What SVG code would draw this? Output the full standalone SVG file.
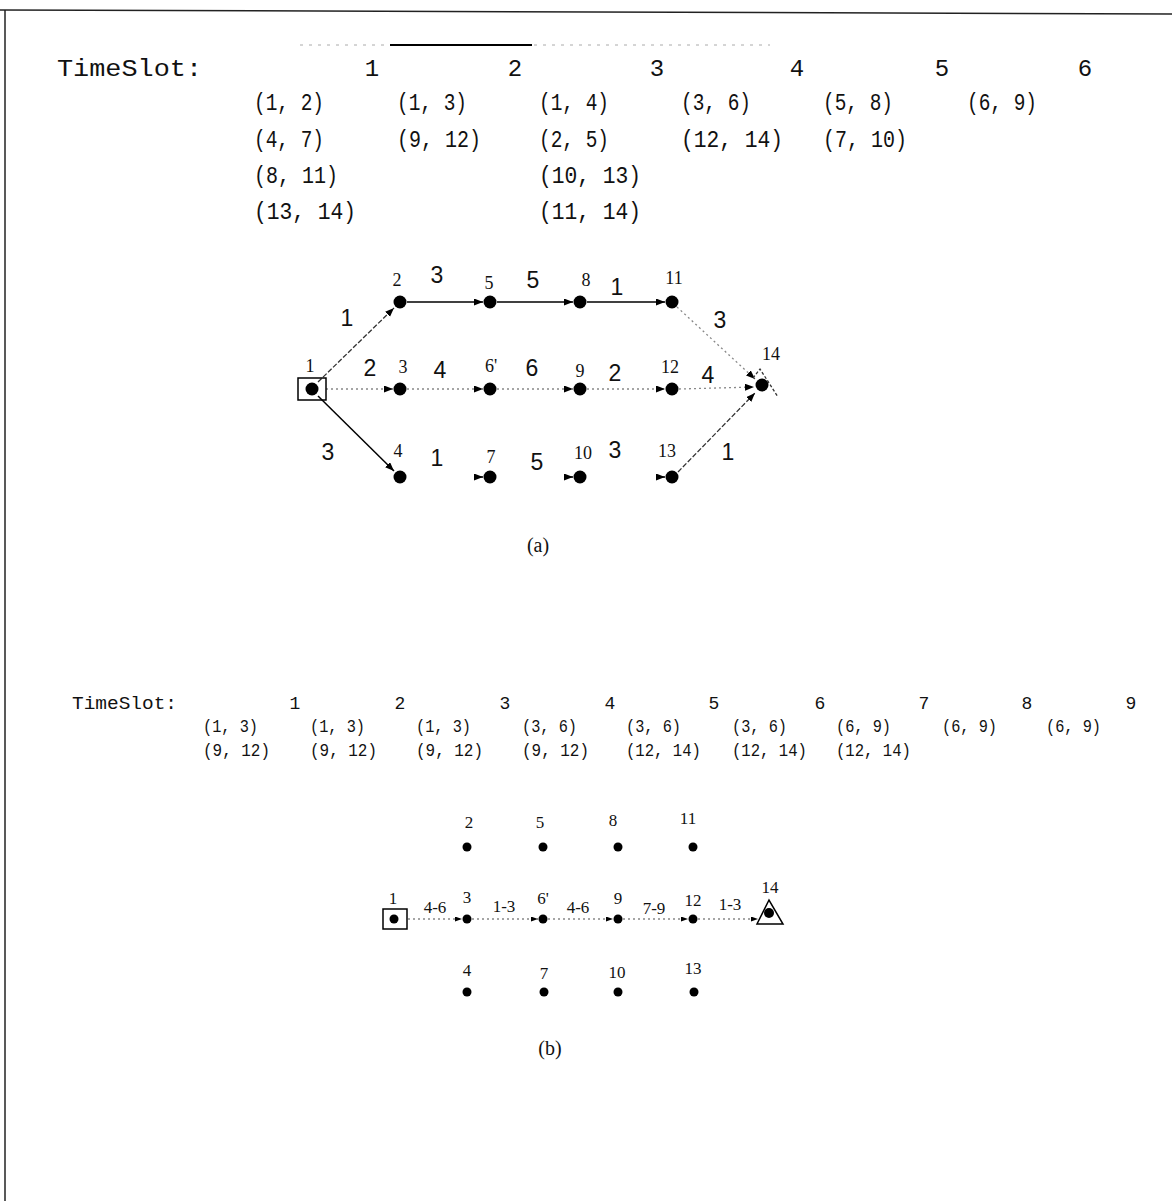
<svg xmlns="http://www.w3.org/2000/svg" width="1172" height="1201" viewBox="0 0 1172 1201">
<defs>
<style>
.ts{font-family:"Liberation Mono",monospace;font-size:24px;fill:#111}
.tsb{font-family:"Liberation Mono",monospace;font-size:18px;fill:#111}
.nl{font-family:"Liberation Serif",serif;font-size:18px;fill:#111;text-anchor:middle}
.ew{font-family:"Liberation Sans",sans-serif;font-size:23px;fill:#111;text-anchor:middle}
.nlb{font-family:"Liberation Serif",serif;font-size:17px;fill:#111;text-anchor:middle}
.cap{font-family:"Liberation Serif",serif;font-size:20px;fill:#111;text-anchor:middle}
.dot{fill:#000}
.solid{stroke:#000;stroke-width:1.5;fill:none}
.dash{stroke:#333;stroke-width:1.3;stroke-dasharray:5 2;fill:none}
.dotted{stroke:#888;stroke-width:1.3;stroke-dasharray:2 3;fill:none}
</style>
<marker id="ah" markerUnits="userSpaceOnUse" markerWidth="10" markerHeight="8" refX="9" refY="3.5" orient="auto">
<path d="M0,0 L9,3.5 L0,7 z" fill="#000"/>
</marker>
<marker id="ahs" markerUnits="userSpaceOnUse" markerWidth="8" markerHeight="6" refX="7" refY="2.5" orient="auto">
<path d="M0,0 L7,2.5 L0,5 z" fill="#000"/>
</marker>
</defs>
<rect width="1172" height="1201" fill="#fff"/>
<g id="border">
<line x1="0" y1="10" x2="1172" y2="14" stroke="#222" stroke-width="1.5"/>
<line x1="5" y1="10" x2="5" y2="1201" stroke="#222" stroke-width="1.5"/>
<line x1="300" y1="45" x2="770" y2="45" stroke="#aaa" stroke-width="1" stroke-dasharray="3 6"/>
<line x1="390" y1="45" x2="532" y2="45" stroke="#000" stroke-width="2"/>
</g>
<g id="timeslot-a">
<text class="ts" x="57" y="76" textLength="145" lengthAdjust="spacingAndGlyphs">TimeSlot:</text>
<g text-anchor="middle">
<text class="ts" x="372" y="76">1</text>
<text class="ts" x="515" y="76">2</text>
<text class="ts" x="657" y="76">3</text>
<text class="ts" x="797" y="76">4</text>
<text class="ts" x="942" y="76">5</text>
<text class="ts" x="1085" y="76">6</text>
</g>
<text class="ts" x="254" y="110" textLength="70" lengthAdjust="spacingAndGlyphs">(1, 2)</text>
<text class="ts" x="254" y="147" textLength="70" lengthAdjust="spacingAndGlyphs">(4, 7)</text>
<text class="ts" x="254" y="183" textLength="84" lengthAdjust="spacingAndGlyphs">(8, 11)</text>
<text class="ts" x="254" y="219" textLength="102" lengthAdjust="spacingAndGlyphs">(13, 14)</text>
<text class="ts" x="397" y="110" textLength="70" lengthAdjust="spacingAndGlyphs">(1, 3)</text>
<text class="ts" x="397" y="147" textLength="84" lengthAdjust="spacingAndGlyphs">(9, 12)</text>
<text class="ts" x="539" y="110" textLength="70" lengthAdjust="spacingAndGlyphs">(1, 4)</text>
<text class="ts" x="539" y="147" textLength="70" lengthAdjust="spacingAndGlyphs">(2, 5)</text>
<text class="ts" x="539" y="183" textLength="102" lengthAdjust="spacingAndGlyphs">(10, 13)</text>
<text class="ts" x="539" y="219" textLength="102" lengthAdjust="spacingAndGlyphs">(11, 14)</text>
<text class="ts" x="681" y="110" textLength="70" lengthAdjust="spacingAndGlyphs">(3, 6)</text>
<text class="ts" x="681" y="147" textLength="102" lengthAdjust="spacingAndGlyphs">(12, 14)</text>
<text class="ts" x="823" y="110" textLength="70" lengthAdjust="spacingAndGlyphs">(5, 8)</text>
<text class="ts" x="823" y="147" textLength="84" lengthAdjust="spacingAndGlyphs">(7, 10)</text>
<text class="ts" x="967" y="110" textLength="70" lengthAdjust="spacingAndGlyphs">(6, 9)</text>
</g>
<g id="connectors-a">
<line class="dash" x1="318" y1="382" x2="394" y2="308" marker-end="url(#ah)"/>
<line class="solid" x1="407" y1="302" x2="483" y2="302" marker-end="url(#ah)"/>
<line class="solid" x1="497" y1="302" x2="573" y2="302" marker-end="url(#ah)"/>
<line class="solid" x1="587" y1="302" x2="665" y2="302" marker-end="url(#ah)"/>
<line class="dotted" x1="677" y1="307" x2="755" y2="379" marker-end="url(#ah)"/>
<line class="dotted" x1="326" y1="389" x2="393" y2="389" marker-end="url(#ah)"/>
<line class="dotted" x1="407" y1="389" x2="483" y2="389" marker-end="url(#ah)"/>
<line class="dotted" x1="497" y1="389" x2="573" y2="389" marker-end="url(#ah)"/>
<line class="dotted" x1="587" y1="389" x2="665" y2="389" marker-end="url(#ah)"/>
<line class="dotted" x1="679" y1="389" x2="754" y2="387" marker-end="url(#ah)"/>
<line class="solid" x1="318" y1="396" x2="394" y2="471" marker-end="url(#ah)"/>
<line class="dash" x1="678" y1="472" x2="755" y2="393" marker-end="url(#ah)"/>
<line stroke="#000" stroke-width="1.5" x1="476" y1="477" x2="483" y2="477" marker-end="url(#ah)"/>
<line stroke="#000" stroke-width="1.5" x1="566" y1="477" x2="573" y2="477" marker-end="url(#ah)"/>
<line stroke="#000" stroke-width="1.5" x1="658" y1="477" x2="665" y2="477" marker-end="url(#ah)"/>
<text class="ew" x="347" y="326">1</text>
<text class="ew" x="437" y="283">3</text>
<text class="ew" x="533" y="288">5</text>
<text class="ew" x="617" y="295">1</text>
<text class="ew" x="720" y="328">3</text>
<text class="ew" x="370" y="376">2</text>
<text class="ew" x="440" y="378">4</text>
<text class="ew" x="532" y="376">6</text>
<text class="ew" x="615" y="381">2</text>
<text class="ew" x="708" y="383">4</text>
<text class="ew" x="328" y="460">3</text>
<text class="ew" x="437" y="466">1</text>
<text class="ew" x="537" y="470">5</text>
<text class="ew" x="615" y="458">3</text>
<text class="ew" x="728" y="460">1</text>
</g>
<g id="a-n1"><rect x="298" y="378" width="28" height="22" fill="none" stroke="#000" stroke-width="1.5"/><circle class="dot" cx="312" cy="389" r="6.5"/><text class="nl" x="310" y="372">1</text></g>
<g id="a-n2"><circle class="dot" cx="400" cy="302" r="6.5"/><text class="nl" x="397" y="286">2</text></g>
<g id="a-n5"><circle class="dot" cx="490" cy="302" r="6.5"/><text class="nl" x="489" y="289">5</text></g>
<g id="a-n8"><circle class="dot" cx="580" cy="302" r="6.5"/><text class="nl" x="586" y="286">8</text></g>
<g id="a-n11"><circle class="dot" cx="672" cy="302" r="6.5"/><text class="nl" x="674" y="284">11</text></g>
<g id="a-n3"><circle class="dot" cx="400" cy="389" r="6.5"/><text class="nl" x="403" y="373">3</text></g>
<g id="a-n6"><circle class="dot" cx="490" cy="389" r="6.5"/><text class="nl" x="491" y="372">6'</text></g>
<g id="a-n9"><circle class="dot" cx="580" cy="389" r="6.5"/><text class="nl" x="580" y="377">9</text></g>
<g id="a-n12"><circle class="dot" cx="672" cy="389" r="6.5"/><text class="nl" x="670" y="373">12</text></g>
<g id="a-n14"><path d="M753,378 L760,369 L778,397" fill="none" stroke="#333" stroke-width="1.3" stroke-dasharray="3 2"/><circle class="dot" cx="762" cy="385" r="6.5"/><text class="nl" x="771" y="360">14</text></g>
<g id="a-n4"><circle class="dot" cx="400" cy="477" r="6.5"/><text class="nl" x="398" y="457">4</text></g>
<g id="a-n7"><circle class="dot" cx="490" cy="477" r="6.5"/><text class="nl" x="491" y="463">7</text></g>
<g id="a-n10"><circle class="dot" cx="580" cy="477" r="6.5"/><text class="nl" x="583" y="459">10</text></g>
<g id="a-n13"><circle class="dot" cx="672" cy="477" r="6.5"/><text class="nl" x="667" y="457">13</text></g>
<text class="cap" x="538" y="552">(a)</text>
<g id="timeslot-b">
<text class="tsb" x="72" y="709" textLength="105" lengthAdjust="spacingAndGlyphs">TimeSlot:</text>
<g text-anchor="middle">
<text class="tsb" x="295" y="709">1</text>
<text class="tsb" x="400" y="709">2</text>
<text class="tsb" x="505" y="709">3</text>
<text class="tsb" x="610" y="709">4</text>
<text class="tsb" x="714" y="709">5</text>
<text class="tsb" x="820" y="709">6</text>
<text class="tsb" x="924" y="709">7</text>
<text class="tsb" x="1027" y="709">8</text>
<text class="tsb" x="1131" y="709">9</text>
</g>
<g font-size="17">
<text class="tsb" x="203" y="732" textLength="55" lengthAdjust="spacingAndGlyphs">(1, 3)</text>
<text class="tsb" x="310" y="732" textLength="55" lengthAdjust="spacingAndGlyphs">(1, 3)</text>
<text class="tsb" x="416" y="732" textLength="55" lengthAdjust="spacingAndGlyphs">(1, 3)</text>
<text class="tsb" x="522" y="732" textLength="55" lengthAdjust="spacingAndGlyphs">(3, 6)</text>
<text class="tsb" x="626" y="732" textLength="55" lengthAdjust="spacingAndGlyphs">(3, 6)</text>
<text class="tsb" x="732" y="732" textLength="55" lengthAdjust="spacingAndGlyphs">(3, 6)</text>
<text class="tsb" x="836" y="732" textLength="55" lengthAdjust="spacingAndGlyphs">(6, 9)</text>
<text class="tsb" x="942" y="732" textLength="55" lengthAdjust="spacingAndGlyphs">(6, 9)</text>
<text class="tsb" x="1046" y="732" textLength="55" lengthAdjust="spacingAndGlyphs">(6, 9)</text>
<text class="tsb" x="203" y="756" textLength="67" lengthAdjust="spacingAndGlyphs">(9, 12)</text>
<text class="tsb" x="310" y="756" textLength="67" lengthAdjust="spacingAndGlyphs">(9, 12)</text>
<text class="tsb" x="416" y="756" textLength="67" lengthAdjust="spacingAndGlyphs">(9, 12)</text>
<text class="tsb" x="522" y="756" textLength="67" lengthAdjust="spacingAndGlyphs">(9, 12)</text>
<text class="tsb" x="626" y="756" textLength="75" lengthAdjust="spacingAndGlyphs">(12, 14)</text>
<text class="tsb" x="732" y="756" textLength="75" lengthAdjust="spacingAndGlyphs">(12, 14)</text>
<text class="tsb" x="836" y="756" textLength="75" lengthAdjust="spacingAndGlyphs">(12, 14)</text>
</g>
</g>
<g id="connectors-b">
<line class="dotted" x1="408" y1="919" x2="462" y2="919" marker-end="url(#ahs)"/>
<line class="dotted" x1="472" y1="919" x2="538" y2="919" marker-end="url(#ahs)"/>
<line class="dotted" x1="548" y1="919" x2="613" y2="919" marker-end="url(#ahs)"/>
<line class="dotted" x1="623" y1="919" x2="688" y2="919" marker-end="url(#ahs)"/>
<line class="dotted" x1="698" y1="919" x2="758" y2="919" marker-end="url(#ahs)"/>
<text class="nlb" x="435" y="913">4-6</text>
<text class="nlb" x="504" y="912">1-3</text>
<text class="nlb" x="578" y="913">4-6</text>
<text class="nlb" x="654" y="914">7-9</text>
<text class="nlb" x="730" y="910">1-3</text>
</g>
<g id="b-n1"><rect x="383" y="909" width="24" height="20" fill="none" stroke="#000" stroke-width="1.5"/><circle class="dot" cx="394" cy="919" r="4.5"/><text class="nlb" x="393" y="904">1</text></g>
<g id="b-n2"><circle class="dot" cx="467" cy="847" r="4.5"/><text class="nlb" x="469" y="828">2</text></g>
<g id="b-n5"><circle class="dot" cx="543" cy="847" r="4.5"/><text class="nlb" x="540" y="828">5</text></g>
<g id="b-n8"><circle class="dot" cx="618" cy="847" r="4.5"/><text class="nlb" x="613" y="826">8</text></g>
<g id="b-n11"><circle class="dot" cx="693" cy="847" r="4.5"/><text class="nlb" x="688" y="824">11</text></g>
<g id="b-n3"><circle class="dot" cx="467" cy="919" r="4.5"/><text class="nlb" x="467" y="903">3</text></g>
<g id="b-n6"><circle class="dot" cx="543" cy="919" r="4.5"/><text class="nlb" x="543" y="904">6'</text></g>
<g id="b-n9"><circle class="dot" cx="618" cy="919" r="4.5"/><text class="nlb" x="618" y="904">9</text></g>
<g id="b-n12"><circle class="dot" cx="693" cy="919" r="4.5"/><text class="nlb" x="693" y="906">12</text></g>
<g id="b-n14"><path d="M769,900 L757,924 L783,924 z" fill="none" stroke="#000" stroke-width="1.5"/><circle class="dot" cx="769" cy="913" r="5"/><text class="nlb" x="770" y="893">14</text></g>
<g id="b-n4"><circle class="dot" cx="467" cy="992" r="4.5"/><text class="nlb" x="467" y="976">4</text></g>
<g id="b-n7"><circle class="dot" cx="544" cy="992" r="4.5"/><text class="nlb" x="544" y="979">7</text></g>
<g id="b-n10"><circle class="dot" cx="618" cy="992" r="4.5"/><text class="nlb" x="617" y="978">10</text></g>
<g id="b-n13"><circle class="dot" cx="694" cy="992" r="4.5"/><text class="nlb" x="693" y="974">13</text></g>
<text class="cap" x="550" y="1055">(b)</text>
</svg>
